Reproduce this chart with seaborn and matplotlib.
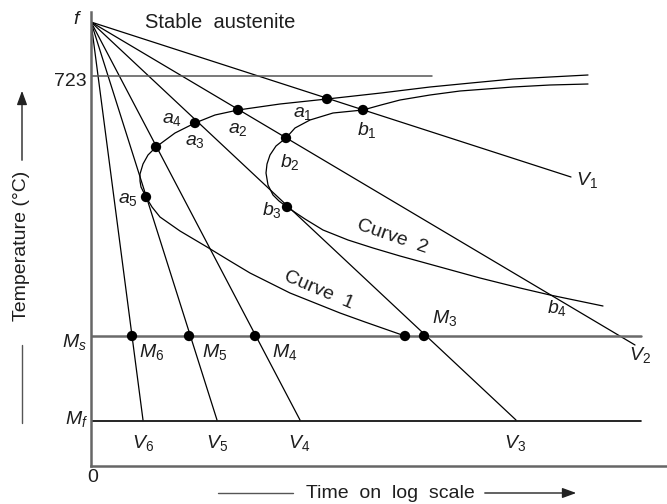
import matplotlib
matplotlib.use("Agg")
import matplotlib.pyplot as plt
import seaborn as sns
import pandas as pd
import numpy as np

# ---------------- data (schematic units: x = time, y = temperature) ----------------
f_point = (0, 444)
temp_723 = 390
temp_ms = 130
temp_mf = 45

# cooling curves V1..V6 start at f and end at these points
cool_names = ["V1", "V2", "V3", "V4", "V5", "V6"]
cool_end_x = [480, 544, 425, 209, 126, 52]
cool_end_y = [289, 121, 46, 46, 46, 46]

# transformation-start curve (a-curve) continuing into Curve 1
start_x = [497, 459, 422, 380, 339, 290, 236, 189, 147, 124, 104, 84, 65, 57, 52, 49, 49, 50, 55,
           61, 69, 89, 116, 139, 159, 179, 199, 224, 249, 274, 294, 314]
start_y = [391, 389, 387, 383, 379, 373, 367, 362, 356, 351, 343, 333, 319, 311, 302, 292, 285, 279, 269,
           259, 249, 235, 219, 205, 193, 183, 173, 163, 153, 144, 137, 130]

# transformation-end curve (b-curve) continuing into Curve 2
end_x = [497, 459, 422, 369, 339, 309, 290, 272, 242, 219, 204, 195, 185, 179, 176, 175, 177, 182,
         188, 196, 214, 232, 257, 282, 309, 349, 389, 429, 459, 512]
end_y = [382, 381, 379, 375, 371, 366, 361, 356, 353, 346, 338, 328, 320, 311, 302, 293, 281, 271,
         265, 259, 247, 236, 226, 218, 210, 199, 188, 178, 171, 160]

# marked points
dot_x = [236, 272, 147, 195, 104, 65, 55, 196, 41, 98, 164, 314, 333]
dot_y = [367, 356, 356, 328, 343, 319, 269, 259, 130, 130, 130, 130, 130]

# point labels
lab_text = ["$a_1$", "$a_2$", "$a_3$", "$a_4$", "$a_5$", "$b_1$", "$b_2$", "$b_3$", "$b_4$",
            "$M_3$", "$M_4$", "$M_5$", "$M_6$",
            "$V_1$", "$V_2$", "$V_3$", "$V_4$", "$V_5$", "$V_6$"]
lab_x = [212, 147, 104, 81, 37, 276, 199, 181, 466,
         354, 194, 124, 61,
         496, 549, 424, 208, 126, 52]
lab_y = [353, 336, 324, 346, 266, 336, 304, 256, 158,
         148, 114, 114, 114,
         286, 111, 23, 23, 23, 23]

# ---------------- style ----------------
sns.set_theme(style="white")
plt.rcParams["font.family"] = ["Liberation Sans", "DejaVu Sans"]
plt.rcParams["mathtext.fontset"] = "custom"
plt.rcParams["mathtext.rm"] = "Liberation Sans"
plt.rcParams["mathtext.it"] = "Liberation Sans:italic"
plt.rcParams["mathtext.default"] = "it"

TXT = "#1e1e1e"
FS = 14

fig = plt.figure(figsize=(6.67, 5.04), dpi=100)
ax = fig.add_axes([91 / 667, 38 / 504, 576 / 667, 454 / 504])
ax.set_xlim(0, 576)
ax.set_ylim(0, 454)

# cooling lines
rows = []
for n, ex, ey in zip(cool_names, cool_end_x, cool_end_y):
    rows.append({"line": n, "x": f_point[0], "y": f_point[1]})
    rows.append({"line": n, "x": ex, "y": ey})
cool_df = pd.DataFrame(rows)
sns.lineplot(data=cool_df, x="x", y="y", units="line", estimator=None, sort=False,
             color="black", lw=0.9, ax=ax, legend=False)

# transformation curves
sns.lineplot(x=start_x, y=start_y, sort=False, estimator=None, color="black", lw=0.9, ax=ax)
sns.lineplot(x=end_x, y=end_y, sort=False, estimator=None, color="black", lw=0.9, ax=ax)

# reference lines
ax.plot([0, 341], [temp_723, temp_723], color="#555555", lw=1.1)
ax.plot([0, 550], [temp_ms, temp_ms], color="#6a6a6a", lw=1.8)
ax.plot([0, 550], [temp_mf, temp_mf], color="black", lw=1.2)

# dots
sns.scatterplot(x=dot_x, y=dot_y, color="black", s=55, edgecolor="none", ax=ax, zorder=5)

# labels
for t, x, y in zip(lab_text, lab_x, lab_y):
    ax.text(x, y, t, ha="center", va="center", fontsize=FS, color=TXT)

ax.text(129, 444, "Stable  austenite", ha="center", va="center", fontsize=14.5, color=TXT)
ax.text(228, 176, "Curve  1", ha="center", va="center", fontsize=FS, color=TXT, rotation=-23)
ax.text(301, 229, "Curve  2", ha="center", va="center", fontsize=FS, color=TXT, rotation=-19)

# y-side labels
ax.text(-9, 446, "$f$", ha="right", va="center", fontsize=FS, color=TXT)
ax.text(-4, 384, "723", ha="right", va="center", fontsize=FS, color=TXT)
ax.text(-4, 124, "$M_s$", ha="right", va="center", fontsize=FS, color=TXT)
ax.text(-3, 47, "$M_f$", ha="right", va="center", fontsize=FS, color=TXT)
ax.text(2, -12, "0", ha="center", va="center", fontsize=FS, color=TXT)

ax.set_xticks([])
ax.set_yticks([])
ax.set_xlabel("")
ax.set_ylabel("")
for s in ["top", "right"]:
    ax.spines[s].set_visible(False)
for s in ["left", "bottom"]:
    ax.spines[s].set_color("#666666")
    ax.spines[s].set_linewidth(1.8)

# axis titles with arrows (figure pixel coords)
def fx(px):
    return px / 667

def fy(py):
    return 1 - py / 504

fig.text(fx(22), fy(246), "Temperature (°C)", rotation=90, ha="center", va="center",
         fontsize=FS, color=TXT)
fig.add_artist(matplotlib.lines.Line2D([fx(22), fx(22)], [fy(345), fy(423)], color="#555555", lw=1.0))
fig.add_artist(matplotlib.patches.FancyArrowPatch((fx(22), fy(163)), (fx(22), fy(88)),
               transform=fig.transFigure, arrowstyle="-|>,head_length=0.6,head_width=0.22",
               mutation_scale=14, color="#222222", lw=1.0))

fig.text(fx(390), fy(493), "Time  on  log  scale", ha="center", va="center", fontsize=FS, color=TXT)
fig.add_artist(matplotlib.lines.Line2D([fx(218), fx(293)], [fy(493), fy(493)], color="#555555", lw=1.0))
fig.add_artist(matplotlib.patches.FancyArrowPatch((fx(482), fy(493)), (fx(579), fy(493)),
               transform=fig.transFigure, arrowstyle="-|>,head_length=0.6,head_width=0.22",
               mutation_scale=14, color="#222222", lw=1.0))

fig.savefig("out.png", dpi=100)
